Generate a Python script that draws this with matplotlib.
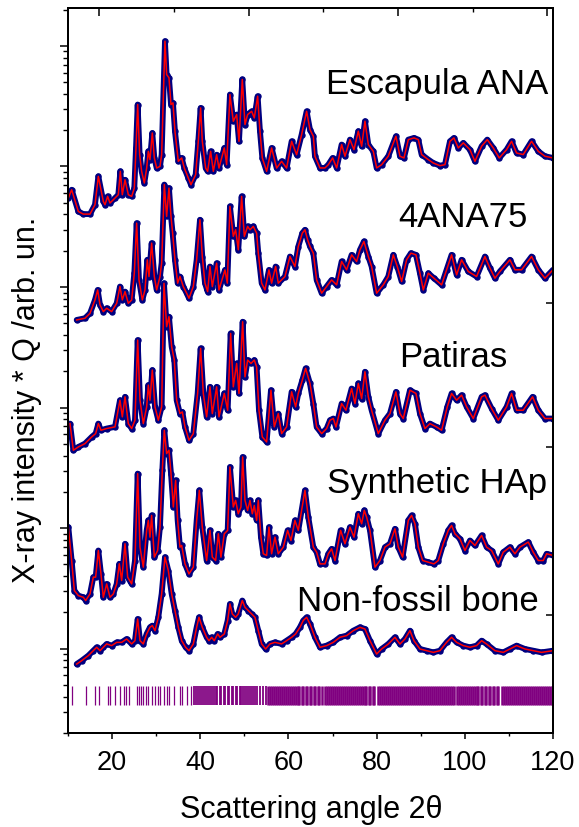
import numpy as np
import matplotlib
matplotlib.use('Agg')
import matplotlib.pyplot as plt
from matplotlib.ticker import FixedLocator, LogLocator, NullFormatter, NullLocator

plt.rcParams['font.family'] = ['Liberation Sans', 'DejaVu Sans']

# values: 2theta and log10(intensity*Q)
escapula_tth = [10.08, 10.83, 12.34, 13.48, 14.99, 16.12, 16.88, 18.01, 18.39, 18.99, 19.52, 20.66, 21.41, 21.87,
                22.32, 22.93, 23.68, 24.44, 25.04, 25.42, 25.80, 26.25, 26.70, 27.31, 27.84, 28.22, 28.59, 29.12,
                29.58, 30.11, 30.86, 31.24, 31.99, 32.37, 32.90, 33.36, 33.81, 34.26, 35.02, 35.78, 36.38, 37.29,
                37.89, 38.95, 39.55, 40.08, 40.46, 41.22, 41.67, 42.35, 42.96, 43.71, 44.24, 45.45, 45.98, 46.73,
                47.49, 48.25, 48.78, 49.53, 50.14, 50.74, 51.65, 52.25, 53.01, 53.54, 54.07, 55.05, 56.18, 57.32,
                58.45, 59.58, 60.72, 61.85, 62.99, 64.12, 64.88, 65.64, 66.01, 67.15, 68.28, 69.04, 70.02, 70.93,
                72.06, 72.82, 73.95, 74.86, 75.84, 76.60, 77.35, 78.11, 79.24, 80.00, 81.13, 82.64, 84.38, 85.29,
                86.20, 87.18, 88.46, 89.45, 90.20, 91.71, 92.85, 94.36, 95.49, 96.63, 97.53, 98.52, 99.65, 101.16,
                102.30, 103.81, 105.09, 106.45, 107.81, 109.48, 110.61, 111.74, 113.25, 115.14, 116.66, 118.17, 120.0]
escapula_logi = [3.738, 3.807, 3.627, 3.605, 3.605, 3.683, 3.918, 3.710, 3.683, 3.752, 3.697, 3.738, 3.766, 3.960,
                 3.766, 3.890, 3.766, 3.752, 3.821, 4.154, 4.514, 4.098, 3.960, 3.863, 3.987, 4.126, 4.057, 4.278,
                 4.071, 3.987, 4.001, 4.098, 5.040, 4.763, 4.736, 4.514, 4.528, 4.292, 4.043, 4.071, 3.987, 3.904,
                 3.849, 3.932, 4.209, 4.486, 4.209, 3.987, 3.960, 4.126, 3.960, 4.098, 3.987, 4.154, 4.015, 4.597,
                 4.375, 4.431, 4.209, 4.722, 4.348, 4.431, 4.458, 4.403, 4.583, 4.292, 4.071, 3.960, 4.154, 3.987,
                 4.043, 3.987, 4.209, 4.098, 4.265, 4.458, 4.306, 4.251, 4.085, 3.988, 3.988, 4.015, 4.071, 3.988,
                 4.182, 4.085, 4.223, 4.140, 4.293, 4.168, 4.376, 4.182, 4.126, 3.988, 4.015, 4.085, 4.251, 4.085,
                 4.071, 4.223, 4.237, 4.223, 4.099, 4.057, 4.029, 4.007, 4.015, 4.209, 4.237, 4.154, 4.196, 4.140,
                 4.043, 4.168, 4.223, 4.154, 4.071, 4.140, 4.209, 4.112, 4.099, 4.209, 4.126, 4.085, 4.071]

ana75_tth = [11.97, 13.85, 14.99, 16.12, 16.73, 17.26, 18.01, 18.77, 19.90, 21.04, 21.79, 22.32, 22.93, 23.68,
             24.44, 25.04, 25.57, 26.10, 26.86, 27.46, 27.99, 28.37, 28.97, 29.58, 30.11, 30.86, 31.24, 31.85,
             32.37, 32.90, 33.36, 33.73, 34.26, 34.87, 35.40, 36.15, 36.91, 37.44, 38.42, 39.18, 39.93, 40.46,
             41.07, 41.67, 42.20, 42.73, 43.71, 44.24, 45.60, 46.13, 46.73, 47.49, 48.02, 48.62, 49.38, 49.99,
             50.74, 51.27, 52.03, 52.78, 53.16, 53.92, 54.67, 55.58, 56.18, 57.09, 57.69, 59.21, 60.34, 61.47,
             62.23, 63.14, 63.74, 64.35, 64.88, 65.64, 66.39, 67.53, 68.66, 69.79, 70.93, 72.06, 73.19, 74.33,
             75.46, 76.22, 77.12, 78.11, 78.86, 80.00, 81.51, 82.64, 83.78, 84.68, 85.67, 86.80, 87.78, 88.92,
             89.82, 90.58, 91.71, 93.00, 94.74, 95.87, 97.00, 98.14, 99.27, 100.78, 102.67, 104.56, 105.70,
             106.83, 107.96, 110.23, 111.37, 112.88, 115.14, 116.66, 118.17, 120.0]
ana75_logi = [2.727, 2.741, 2.782, 2.893, 2.976, 2.852, 2.796, 2.824, 2.796, 2.865, 3.004, 2.893, 2.962, 2.865,
              2.893, 3.115, 3.530, 3.059, 2.893, 2.976, 3.226, 3.087, 3.364, 3.087, 2.976, 3.087, 3.200, 3.850,
              3.586, 3.821, 3.586, 3.447, 3.226, 3.032, 3.087, 3.004, 2.949, 2.907, 3.004, 3.226, 3.558, 3.253,
              3.032, 2.962, 3.170, 3.004, 3.198, 2.976, 3.142, 3.032, 3.669, 3.420, 3.475, 3.309, 3.752, 3.420,
              3.503, 3.475, 3.503, 3.447, 3.281, 3.032, 2.976, 3.142, 3.032, 3.170, 3.032, 3.087, 3.253, 3.170,
              3.336, 3.447, 3.475, 3.392, 3.337, 3.281, 3.059, 2.949, 3.004, 3.059, 3.018, 3.212, 3.143, 3.267,
              3.212, 3.309, 3.378, 3.253, 3.170, 2.949, 3.018, 3.087, 3.267, 3.170, 3.046, 3.226, 3.281, 3.267,
              3.115, 2.976, 3.115, 3.073, 3.018, 3.143, 3.267, 3.101, 3.226, 3.129, 3.087, 3.253, 3.157,
              3.073, 3.129, 3.226, 3.143, 3.143, 3.253, 3.143, 3.073, 3.143]

patiras_tth = [10.45, 11.21, 12.34, 13.85, 15.37, 16.27, 16.88, 17.48, 18.77, 20.66, 21.79, 22.32, 22.93, 23.68,
               24.44, 25.19, 25.80, 26.33, 27.08, 27.84, 28.22, 28.59, 29.12, 29.73, 30.48, 31.24, 31.77, 32.37,
               32.90, 33.51, 34.11, 34.64, 35.40, 35.93, 36.53, 37.44, 38.42, 39.40, 40.08, 40.69, 41.44, 42.20,
               42.73, 43.71, 44.24, 45.45, 46.21, 46.89, 47.49, 48.25, 48.78, 49.61, 50.14, 50.74, 51.50, 52.25,
               52.78, 53.31, 54.07, 55.05, 56.03, 56.79, 57.69, 58.45, 59.58, 60.72, 61.63, 62.23, 63.14, 63.89,
               64.88, 65.64, 66.39, 67.53, 68.66, 69.42, 70.17, 70.78, 72.06, 73.04, 74.33, 75.08, 75.84, 76.60,
               77.35, 78.11, 78.86, 80.37, 81.89, 83.02, 84.38, 85.29, 86.04, 87.56, 88.92, 89.82, 90.96, 92.09,
               93.60, 94.74, 96.02, 97.00, 98.14, 99.27, 100.41, 101.92, 103.81, 104.56, 106.07, 107.59, 109.48,
               110.61, 111.74, 113.25, 115.37, 116.66, 118.17, 120.0]
patiras_logi = [1.867, 1.646, 1.673, 1.701, 1.756, 1.784, 1.867, 1.812, 1.826, 1.840, 2.061, 1.923, 2.089, 1.867,
                1.826, 1.895, 2.560, 2.061, 1.867, 2.006, 2.186, 2.061, 2.311, 2.006, 1.895, 2.006, 3.031, 2.671,
                2.754, 2.505, 2.394, 2.061, 1.950, 1.964, 1.840, 1.729, 1.784, 2.117, 2.491, 2.117, 1.923, 2.172,
                1.950, 2.172, 1.923, 2.117, 1.978, 2.615, 2.172, 2.366, 2.117, 2.712, 2.255, 2.394, 2.366, 2.394,
                2.338, 1.978, 1.756, 1.715, 2.144, 1.840, 1.950, 1.784, 1.840, 2.131, 2.006, 2.117, 2.227, 2.325,
                2.200, 2.033, 1.839, 1.784, 1.826, 1.895, 1.909, 1.839, 2.033, 1.978, 2.158, 2.033, 2.200, 2.075,
                2.297, 2.089, 1.978, 1.784, 1.895, 1.950, 2.130, 1.950, 1.909, 2.144, 2.117, 1.950, 1.826, 1.867,
                1.839, 1.812, 2.006, 2.117, 2.061, 2.103, 2.006, 1.909, 2.089, 2.103, 1.992, 1.895, 2.006,
                2.117, 1.978, 1.978, 2.089, 1.978, 1.909, 1.909]

synth_tth = [10.08, 10.83, 11.44, 12.34, 13.48, 14.01, 14.99, 15.74, 16.27, 16.88, 17.48, 18.01, 18.77, 19.52,
             20.28, 21.04, 21.64, 22.17, 22.93, 23.53, 24.44, 25.19, 25.80, 26.33, 27.08, 27.84, 28.22, 28.59,
             28.97, 29.58, 30.33, 30.86, 31.39, 31.84, 32.37, 32.90, 33.36, 33.89, 34.41, 34.87, 35.40, 35.78,
             36.53, 37.44, 38.42, 39.18, 39.78, 40.46, 41.44, 42.20, 42.73, 43.48, 44.09, 44.69, 45.45, 46.21,
             46.73, 47.49, 48.02, 48.62, 49.23, 49.61, 50.14, 50.74, 51.27, 51.80, 52.25, 52.78, 53.16, 53.76,
             54.29, 55.05, 55.58, 56.18, 56.94, 57.69, 58.83, 59.81, 60.57, 61.47, 62.23, 62.99, 63.74, 64.50,
             65.64, 66.39, 67.15, 68.28, 69.04, 69.79, 70.55, 71.83, 72.82, 73.95, 74.86, 75.84, 76.60, 77.20,
             77.73, 78.49, 79.62, 80.75, 81.89, 83.02, 84.15, 84.91, 85.89, 87.18, 87.93, 88.69, 89.45, 90.43,
             91.71, 93.00, 93.98, 95.11, 96.25, 97.00, 97.76, 98.89, 100.03, 101.16, 102.30, 103.81, 104.94,
             106.07, 107.59, 108.72, 110.23, 111.37, 112.50, 114.39, 115.52, 116.66, 117.79, 118.55, 120.0]
synth_logi = [1.008, 0.731, 0.482, 0.440, 0.426, 0.399, 0.454, 0.593, 0.593, 0.814, 0.620, 0.426, 0.537, 0.426,
              0.454, 0.537, 0.704, 0.565, 0.870, 0.593, 0.537, 0.731, 1.452, 0.842, 0.676, 0.981, 1.064, 0.925,
              1.105, 0.759, 0.814, 1.008, 1.479, 1.812, 1.618, 1.646, 1.452, 1.175, 1.396, 1.064, 0.842, 0.856,
              0.704, 0.620, 0.676, 1.064, 1.313, 1.008, 0.731, 0.981, 0.759, 0.731, 0.953, 0.759, 0.953, 0.981,
              1.507, 1.175, 1.230, 1.119, 1.175, 1.590, 1.230, 1.147, 1.230, 1.119, 1.188, 1.064, 1.230, 0.925,
              0.787, 0.773, 1.008, 0.787, 0.925, 0.787, 0.842, 0.981, 0.897, 1.064, 0.981, 1.147, 1.313, 1.091,
              0.842, 0.800, 0.703, 0.703, 0.787, 0.828, 0.731, 0.981, 0.870, 1.008, 0.925, 1.119, 1.036, 1.147,
              1.091, 0.981, 0.676, 0.731, 0.842, 0.870, 0.994, 0.842, 0.759, 1.064, 1.105, 1.036, 0.842, 0.731,
              0.717, 0.703, 0.731, 0.870, 0.981, 1.022, 0.953, 0.911, 0.814, 0.897, 0.856, 0.939, 0.842,
              0.814, 0.703, 0.800, 0.842, 0.787, 0.842, 0.884, 0.800, 0.731, 0.731, 0.787, 0.773]

bone_tth = [11.97, 13.10, 14.61, 15.74, 16.50, 17.26, 18.01, 18.77, 19.90, 21.04, 22.17, 23.30, 24.44, 25.19,
            25.80, 26.33, 27.08, 27.84, 28.59, 29.12, 29.73, 30.48, 31.24, 31.99, 32.75, 33.51, 34.26, 35.02,
            35.78, 36.68, 37.44, 38.42, 39.18, 39.71, 40.46, 41.44, 41.97, 42.58, 43.18, 43.94, 44.47, 45.45,
            46.21, 46.73, 47.26, 48.02, 48.62, 49.53, 50.14, 50.89, 51.65, 52.40, 53.16, 53.92, 54.82, 55.80,
            56.94, 58.45, 59.58, 60.72, 61.63, 62.61, 63.36, 64.12, 64.88, 66.01, 67.15, 68.66, 70.17, 71.68,
            73.19, 74.71, 76.22, 77.35, 78.49, 80.00, 81.13, 82.64, 84.15, 85.29, 86.42, 87.56, 88.46, 89.82,
            91.34, 92.85, 94.36, 95.87, 97.00, 98.14, 99.65, 101.16, 102.67, 103.81, 104.94, 106.83, 108.72,
            110.23, 111.74, 113.63, 115.52, 117.41, 120.0]
bone_logi = [-0.128, -0.100, -0.058, -0.017, 0.011, -0.017, 0.011, 0.039, 0.025, 0.052, 0.052, 0.080, 0.039, 0.066,
             0.246, 0.066, 0.039, 0.122, 0.177, 0.191, 0.149, 0.260, 0.454, 0.759, 0.648, 0.454, 0.316, 0.177,
             0.066, 0.011, -0.017, 0.039, 0.177, 0.260, 0.177, 0.094, 0.066, 0.094, 0.066, 0.122, 0.094, 0.122,
             0.233, 0.371, 0.288, 0.260, 0.288, 0.399, 0.343, 0.316, 0.288, 0.260, 0.149, 0.039, -0.003, 0.039,
             0.052, 0.039, 0.066, 0.094, 0.122, 0.177, 0.233, 0.260, 0.205, 0.094, 0.011, 0.025, 0.052, 0.094,
             0.108, 0.149, 0.177, 0.163, 0.066, -0.045, -0.003, 0.038, 0.094, 0.038, 0.080, 0.149, 0.066, -0.003,
             -0.017, -0.031, -0.017, 0.052, 0.094, 0.052, 0.025, 0.011, 0.025, 0.066, 0.038, -0.017, -0.031,
             -0.003, 0.025, -0.003, -0.017, -0.031, -0.017]

# Bragg reflection markers
bragg_low = [10.8, 14.1, 16.1, 17.0, 19.0, 19.5, 20.7, 21.8, 22.6, 23.1, 23.8, 25.6, 26.0, 26.6, 27.1, 27.7,
             28.2, 29.0, 29.7, 30.3, 30.9, 31.8, 32.4, 33.0, 34.1, 35.4, 35.9, 36.9, 38.0]
bragg_mid = [38.6, 39.0, 39.5, 39.9, 40.4, 40.9, 41.3, 41.8, 42.1, 42.6, 43.0, 43.5, 43.9, 44.4, 44.8, 45.3,
             45.7, 46.2, 46.6, 47.1, 47.5, 48.0, 48.4, 48.9, 49.3, 49.8, 50.2, 50.7, 51.1, 51.6, 52.0, 52.5,
             52.9, 53.6, 54.3, 54.9]
bragg_high = [55.3, 55.8, 56.2, 56.7, 57.1, 57.6, 58.0, 58.5, 58.9, 59.4, 59.8, 60.3,
              60.7, 61.2, 61.6, 62.1, 62.5, 63.0, 63.4, 63.9, 64.3, 64.8, 65.2, 65.7, 66.1, 66.6, 67.0, 67.5,
              68.3, 68.7, 69.2, 69.6, 70.1, 70.5, 71.0, 71.4, 71.9, 72.3, 72.8, 73.2, 73.7, 74.1, 74.6, 75.0,
              75.5, 75.9, 76.4, 76.8, 77.3, 77.7, 78.2, 78.6, 79.1, 79.5, 80.4, 80.8, 81.3, 81.7, 82.2, 82.6,
              83.1, 83.5, 84.0, 84.4, 84.9, 85.3, 85.8, 86.2, 86.7, 87.1, 87.6, 88.0, 88.5, 88.9, 89.4, 89.8,
              90.3, 90.7, 91.2, 91.6, 92.1, 92.5, 93.0, 93.4, 93.9, 94.3, 94.8, 95.2, 95.7, 96.1, 96.6, 97.0,
              97.5, 98.2, 98.6, 99.1, 99.5, 100.0, 100.4, 100.9, 101.3, 101.8, 102.2, 102.7, 103.1, 103.6,
              104.0, 104.5, 104.9, 105.4, 105.8, 106.3, 106.7, 107.2, 107.6, 108.5, 108.9, 109.4, 109.8, 110.3,
              110.7, 111.2, 111.6, 112.1, 112.5, 113.0, 113.4, 113.9, 114.3, 114.8, 115.2, 115.7, 116.1, 116.6,
              117.0, 117.5, 117.9, 118.4, 118.8, 119.3, 119.7]

labels = ['Escapula ANA', '4ANA75', 'Patiras', 'Synthetic HAp', 'Non-fossil bone']
curves = [(escapula_tth, escapula_logi), (ana75_tth, ana75_logi), (patiras_tth, patiras_logi),
          (synth_tth, synth_logi), (bone_tth, bone_logi)]

W, H = 579, 827
fig = plt.figure(figsize=(W / 100, H / 100), dpi=100)
ax = fig.add_axes([68 / W, 1 - 733 / H, (553 - 68) / W, (733 - 8) / H])

for tth, logi in curves:
    inten = 10 ** np.array(logi)
    ax.plot(tth, inten, color='#000080', lw=4.2, marker='o', ms=3.6,
            solid_joinstyle='round', solid_capstyle='round', zorder=2)
    ax.plot(tth, inten, color='#ff0000', lw=1.1, zorder=3)

ax.vlines(bragg_low, 0.34, 0.49, color='#800080', lw=0.9, zorder=2)
ax.vlines(bragg_mid, 0.34, 0.49, color='#800080', lw=1.3, zorder=2)
ax.vlines(bragg_high, 0.34, 0.49, color='#800080', lw=1.8, zorder=2)

ax.set_yscale('log')
ax.set_xlim(10, 120)
ax.set_ylim(10 ** -0.70, 10 ** 5.315)

ax.yaxis.set_major_locator(LogLocator(base=10, numticks=20))
ax.yaxis.set_minor_locator(LogLocator(base=10, subs=np.arange(2, 10), numticks=20))
ax.yaxis.set_major_formatter(NullFormatter())
ax.yaxis.set_minor_formatter(NullFormatter())
ax.tick_params(axis='y', which='major', direction='out', length=6, width=1.1)
ax.tick_params(axis='y', which='minor', direction='out', length=3.5, width=1.0)

ax.set_xticks([20, 40, 60, 80, 100, 120])
ax.xaxis.set_minor_locator(FixedLocator([10, 30, 50, 70, 90, 110]))
ax.tick_params(axis='x', which='major', direction='out', length=4, width=1.1,
               labelsize=19.5, pad=8)
ax.tick_params(axis='x', which='minor', direction='out', length=2.5, width=1.0)

for s in ax.spines.values():
    s.set_linewidth(1.4)

# unlabeled ticks on top
top = ax.secondary_xaxis('top')
top.set_xticks([17.1, 51.0, 84.9, 118.7])
top.xaxis.set_minor_locator(FixedLocator([34.0, 67.9, 101.8]))
top.xaxis.set_major_formatter(NullFormatter())
top.tick_params(which='major', direction='in', length=6, width=1.1)
top.tick_params(which='minor', direction='in', length=3, width=1.0)
top.spines['top'].set_linewidth(1.4)

right = ax.twinx()
right.set_yscale('log')
right.set_ylim(ax.get_ylim())
right.set_yticks(10 ** np.array([2.867, 1.672, 0.278]))
right.yaxis.set_minor_locator(NullLocator())
right.yaxis.set_major_formatter(NullFormatter())
right.tick_params(direction='in', length=5, width=1.1)
for s in right.spines.values():
    s.set_linewidth(1.4)

label_pos = [(548, 94), (528, 227), (507, 367), (547, 493), (539, 611)]
for name, (px, py) in zip(labels, label_pos):
    fig.text(px / W, 1 - py / H, name, ha='right', va='baseline', fontsize=25)

fig.text(311 / W, 1 - 818 / H, 'Scattering angle 2\u03b8', ha='center', va='baseline', fontsize=22)
fig.text(27 / W, 1 - 400 / H, 'X-ray intensity * Q /arb. un.', rotation=90,
         ha='center', va='center', fontsize=22)

fig.savefig('out.png', dpi=100)
